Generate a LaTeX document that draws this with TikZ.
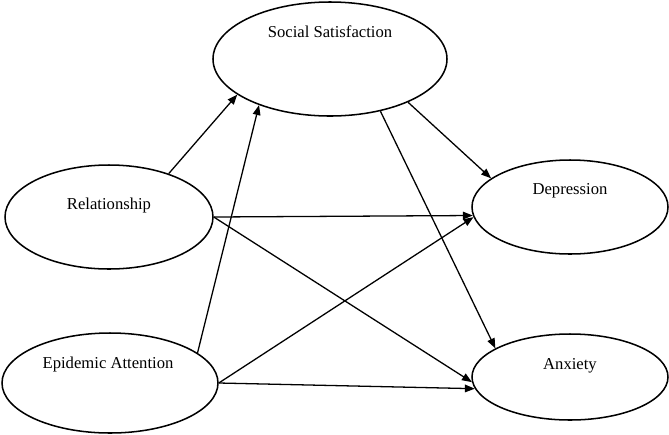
\documentclass[tikz,border=0pt]{standalone}
\usepackage{fontspec}
\setmainfont{Liberation Serif}
\usetikzlibrary{shapes.geometric,arrows.meta}

\begin{document}
\begin{tikzpicture}[x=0.03cm, y=-0.03cm, >={Triangle[length=8.5pt,width=6.5pt]},
    every node/.style={font=\fontsize{14.2}{17}\selectfont},
    latent/.style={draw, ellipse, line width=1.3pt, inner sep=0pt},
    effect/.style={->, line width=1.1pt}]
    \useasboundingbox (0,0) rectangle (669,434);

    % --- 1. latent variables (ellipses) ---
    \node[latent, minimum width=7.02cm, minimum height=3.42cm] (ss)  at (330, 59)  {}; % social satisfaction
    \node[latent, minimum width=6.24cm, minimum height=3.12cm] (rel) at (109, 217) {}; % relationship
    \node[latent, minimum width=6.48cm, minimum height=3.00cm] (epi) at (110, 383) {}; % epidemic attention
    \node[latent, minimum width=5.88cm, minimum height=2.82cm] (dep) at (570, 207) {}; % depression
    \node[latent, minimum width=5.88cm, minimum height=2.58cm] (anx) at (570, 377) {}; % anxiety

    % --- 2. labels (upper part of each ellipse) ---
    \node[anchor=base] (ss-t)  at (330, 37)  {Social Satisfaction};
    \node[anchor=base] (rel-t) at (109, 209) {Relationship};
    \node[anchor=base] (epi-t) at (108, 368) {Epidemic Attention};
    \node[anchor=base] (dep-t) at (570, 194) {Depression};
    \node[anchor=base] (anx-t) at (570, 369) {Anxiety};

    % --- 3. paths ---
    % into the mediator
    \draw[effect] (rel.36) -- (ss.201);
    \draw[effect] (epi.19) -- (ss.213);
    % mediator to outcomes
    \draw[effect] (ss.331) -- (dep.160);
    \draw[effect] (ss.314) -- (anx.159);
    % direct paths
    \draw[effect] (rel.east) -- (dep.185);
    \draw[effect] (rel.east) -- (anx.183);
    \draw[effect] (epi.east) -- (dep.186);
    \draw[effect] (epi.east) -- (anx.187);

\end{tikzpicture}
\end{document}
